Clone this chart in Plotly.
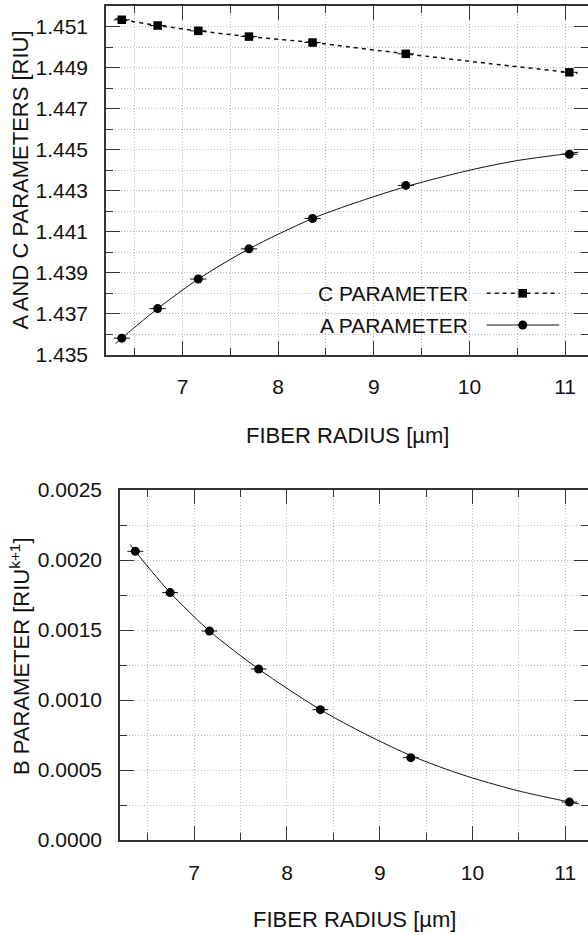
import plotly.graph_objects as go

# Fiber radius [um] of the measured samples and its uncertainty
radius = [6.365, 6.74, 7.165, 7.695, 8.36, 9.335, 11.045]
radius_err = [0.085, 0.085, 0.085, 0.085, 0.085, 0.085, 0.085]

# Fitted model parameters
c_param = [1.45133, 1.45105, 1.45079, 1.45051, 1.45022, 1.44967, 1.44877]
a_param = [1.43582, 1.43726, 1.43870, 1.44017, 1.44165, 1.44326, 1.44478]
b_param = [0.002062, 0.001767, 0.001493, 0.001221, 0.000931, 0.000588, 0.000271]

# Trend curves (drawn slightly past the first and last sample)
c_fit_x = [6.30, 6.365, 6.74, 7.165, 7.695, 8.36, 9.335, 10.2, 11.045, 11.13]
c_fit_y = [1.45138, 1.45133, 1.45105, 1.45079, 1.45051, 1.45022, 1.44967, 1.44920, 1.44877, 1.44873]
a_fit_x = [6.30, 6.365, 6.74, 7.165, 7.695, 8.36, 8.85, 9.335, 10.0, 10.5, 11.045, 11.14]
a_fit_y = [1.43555, 1.43582, 1.43726, 1.43870, 1.44017, 1.44165, 1.44248, 1.44320, 1.44400, 1.44447, 1.44482, 1.44488]
b_fit_x = [6.31, 6.365, 6.74, 7.165, 7.695, 8.36, 8.85, 9.345, 9.72, 10.0, 10.5, 11.045, 11.15]
b_fit_y = [0.00211, 0.002062, 0.001767, 0.001493, 0.001221, 0.000931, 0.000755, 0.000600,
           0.000505, 0.000443, 0.000350, 0.000271, 0.000257]

X_TITLE = "FIBER RADIUS [µm]"
FONT = "Liberation Sans, Arial, Helvetica, sans-serif"
INK = "#111111"
FRAME = "#333333"
GRID = "#b8b8b8"

W, H = 588, 935


def px(x):
    return x / W


def py(y):
    return 1 - y / H


fig = go.Figure()

err = dict(type="data", array=radius_err, visible=True, thickness=1, width=0, color=INK)
fit_line = dict(color=INK, width=1, shape="spline", smoothing=0.8)

# Upper panel: C and A parameters
fig.add_trace(go.Scatter(x=c_fit_x, y=c_fit_y, mode="lines",
                         line=dict(color=INK, width=1.5, dash="4px,4px", shape="spline", smoothing=0.8),
                         xaxis="x", yaxis="y", hoverinfo="skip"))
fig.add_trace(go.Scatter(x=a_fit_x, y=a_fit_y, mode="lines", line=fit_line,
                         xaxis="x", yaxis="y", hoverinfo="skip"))
fig.add_trace(go.Scatter(x=radius, y=c_param, mode="markers", error_x=err, name="C PARAMETER",
                         marker=dict(symbol="square", size=8.5, color="black"), xaxis="x", yaxis="y"))
fig.add_trace(go.Scatter(x=radius, y=a_param, mode="markers", error_x=err, name="A PARAMETER",
                         marker=dict(symbol="circle", size=9, color="black"), xaxis="x", yaxis="y"))

# Lower panel: B parameter
fig.add_trace(go.Scatter(x=b_fit_x, y=b_fit_y, mode="lines", line=fit_line,
                         xaxis="x2", yaxis="y2", hoverinfo="skip"))
fig.add_trace(go.Scatter(x=radius, y=b_param, mode="markers", error_x=err, name="B PARAMETER",
                         marker=dict(symbol="circle", size=9, color="black"), xaxis="x2", yaxis="y2"))

tick_font = dict(family=FONT, size=21, color=INK)


def axis_style(**kw):
    base = dict(
        showline=True, linecolor=FRAME, linewidth=1.5, mirror="ticks",
        ticks="inside", ticklen=14, tickwidth=1.2, tickcolor=FRAME,
        showgrid=True, gridcolor=GRID, gridwidth=1, griddash="1px,2px",
        zeroline=False, tickfont=tick_font, automargin=False,
    )
    base.update(kw)
    return base


def minor(step):
    return dict(dtick=step, ticklen=7, tickwidth=1.2, tickcolor=FRAME, showgrid=True,
                gridcolor=GRID, gridwidth=1, griddash="1px,2px", ticks="inside")


fig.update_layout(
    width=W, height=H,
    margin=dict(l=0, r=0, t=0, b=0, pad=0, autoexpand=False),
    paper_bgcolor="white", plot_bgcolor="white",
    showlegend=False,
    font=dict(family=FONT, color=INK),
    xaxis=axis_style(domain=[px(106), 1], anchor="y", range=[6.2, 11.24], tick0=0, dtick=1,
                     minor=minor(0.5), ticklabelstandoff=12),
    yaxis=axis_style(domain=[py(355), py(6)], anchor="x", range=[1.435, 1.452], tick0=1.435, dtick=0.002,
                     tickformat=".3f", ticklabelstandoff=12, minor=minor(0.001)),
    xaxis2=axis_style(domain=[px(120), 1], anchor="y2", range=[6.2, 11.245], tick0=0, dtick=1,
                      minor=minor(0.5), ticklabelstandoff=13),
    yaxis2=axis_style(domain=[py(840), py(490)], anchor="x2", range=[0, 0.0025], tick0=0, dtick=0.0005,
                      tickformat=".4f", ticklabelstandoff=12, minor=minor(0.00025)),
)

title_font = dict(family=FONT, size=22, color=INK)
annotations = [
    dict(text=X_TITLE, x=px(347.5), y=py(435.7), xref="paper", yref="paper", showarrow=False,
         xanchor="center", yanchor="middle", font=title_font),
    dict(text=X_TITLE, x=px(354), y=py(919), xref="paper", yref="paper", showarrow=False,
         xanchor="center", yanchor="middle", font=title_font),
    dict(text="A AND C PARAMETERS [RIU]", x=px(20), y=py(180.5), xref="paper", yref="paper", showarrow=False,
         textangle=-90, xanchor="center", yanchor="middle", font=title_font),
    dict(text="B PARAMETER [RIU<sup>k+1</sup>]", x=px(20), y=py(656), xref="paper", yref="paper",
         showarrow=False, textangle=-90, xanchor="center", yanchor="middle", font=title_font),
]

# Key for the upper panel: label on the left, line sample on the right
key_rows = [
    ("C PARAMETER", 293.3, "4px,4px", 1.5, "rect"),
    ("A PARAMETER", 325.0, "solid", 1.0, "circle"),
]
shapes = []
for label, row_y, dash, lw, sym in key_rows:
    annotations.append(dict(text=label, x=px(470), y=py(row_y), xref="paper", yref="paper", showarrow=False,
                            xanchor="right", yanchor="middle", font=dict(family=FONT, size=21, color=INK)))
    shapes.append(dict(type="line", xref="paper", yref="paper", x0=px(486.7), x1=px(559.3),
                       y0=py(row_y), y1=py(row_y), line=dict(color=INK, width=lw, dash=dash)))
    r = 4.3 if sym == "rect" else 4.5
    shapes.append(dict(type=sym, xref="paper", yref="paper", xsizemode="pixel", ysizemode="pixel",
                       xanchor=px(522.7), yanchor=py(row_y), x0=-r, x1=r, y0=-r, y1=r,
                       fillcolor="black", line=dict(color="black", width=0)))

fig.update_layout(annotations=annotations, shapes=shapes)

fig.write_html("out.html")
